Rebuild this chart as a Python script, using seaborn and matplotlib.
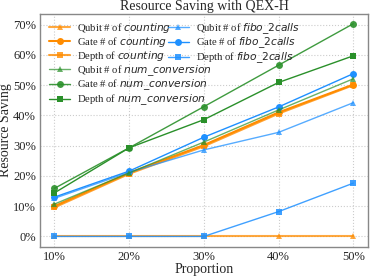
import matplotlib
matplotlib.use("Agg")
import matplotlib.pyplot as plt
import pandas as pd
import seaborn as sns

proportion = [10, 20, 30, 40, 50]

qubit_counting = [0, 0, 0, 0, 0]
gate_counting = [10.0, 21.0, 30.2, 41.0, 50.2]
depth_counting = [9.6, 20.7, 29.8, 40.6, 50.0]

qubit_fibo = [12.6, 21.2, 28.6, 34.4, 44.2]
gate_fibo = [13.0, 21.6, 32.8, 42.8, 53.8]
depth_fibo = [0, 0, 0, 8.2, 17.6]

qubit_numconv = [10.7, 21.0, 31.2, 41.8, 52.1]
gate_numconv = [15.9, 29.3, 42.9, 56.6, 70.3]
depth_numconv = [14.4, 29.3, 38.6, 50.9, 59.7]

ORANGE = "#ff8c00"
BLUE = "#1e90ff"
GREEN = "#2a902a"

# label, values, color, marker, linewidth, alpha
series = [
    (r"Qubit # of $\it{counting}$", qubit_counting, ORANGE, "^", 1.5, 0.75),
    (r"Gate # of $\it{counting}$", gate_counting, ORANGE, "o", 1.5, 1.0),
    (r"Depth of $\it{counting}$", depth_counting, ORANGE, "s", 1.5, 0.8),
    (r"Qubit # of $\it{fibo\_2calls}$", qubit_fibo, BLUE, "^", 1.0, 0.75),
    (r"Gate # of $\it{fibo\_2calls}$", gate_fibo, BLUE, "o", 1.0, 1.0),
    (r"Depth of $\it{fibo\_2calls}$", depth_fibo, BLUE, "s", 1.0, 0.85),
    (r"Qubit # of $\it{num\_conversion}$", qubit_numconv, GREEN, "^", 1.0, 0.7),
    (r"Gate # of $\it{num\_conversion}$", gate_numconv, GREEN, "o", 1.0, 0.9),
    (r"Depth of $\it{num\_conversion}$", depth_numconv, GREEN, "s", 1.0, 1.0),
]

sns.set_theme(style="whitegrid")
plt.rcParams["font.family"] = ["Liberation Serif", "DejaVu Serif"]
plt.rcParams["mathtext.fontset"] = "dejavusans"

fig, ax = plt.subplots(figsize=(3.73, 2.76), dpi=100)

handles = {}
for label, vals, color, marker, lw, alpha in series:
    df = pd.DataFrame({"Proportion": proportion, "Saving": vals})
    sns.lineplot(data=df, x="Proportion", y="Saving", ax=ax, color=color,
                 marker=marker, markersize=5, markeredgewidth=0, alpha=alpha,
                 linewidth=lw, label=label, legend=False)
    handles[label] = ax.lines[-1]

order = [s[0] for s in series]
col1 = order[0:3] + order[6:9]
col2 = order[3:6]
leg_kw = dict(frameon=False, fontsize=7.7, handlelength=2.0, labelspacing=0.0,
              borderaxespad=0.4, handletextpad=0.65, loc="upper left")
leg1 = ax.legend([handles[l] for l in col1], col1, bbox_to_anchor=(0, 1.007), **leg_kw)
ax.add_artist(leg1)
ax.legend([handles[l] for l in col2], col2, bbox_to_anchor=(0.362, 1.007), **leg_kw)

ax.set_xticks(proportion)
ax.set_xticklabels([f"{p}%" for p in proportion])
yt = [0, 10, 20, 30, 40, 50, 60, 70]
ax.set_yticks(yt)
ax.set_yticklabels([f"{v}%" for v in yt])
ax.set_xlim(8.1, 52.0)
ax.set_ylim(-3.5, 73.6)
ax.tick_params(labelsize=9, pad=3, length=0)
ax.grid(True, linestyle=":", color="#cccccc", linewidth=0.8)
for sp in ax.spines.values():
    sp.set_color("#888888")
    sp.set_linewidth(1.0)

ax.set_xlabel("Proportion", fontsize=10, labelpad=0)
ax.set_ylabel("Resource Saving", fontsize=10, labelpad=1)
ax.set_title("Resource Saving with QEX-H", fontsize=10, pad=2.5)

fig.subplots_adjust(left=0.108, right=0.987, top=0.95, bottom=0.105)
fig.savefig("out.png", dpi=100)
